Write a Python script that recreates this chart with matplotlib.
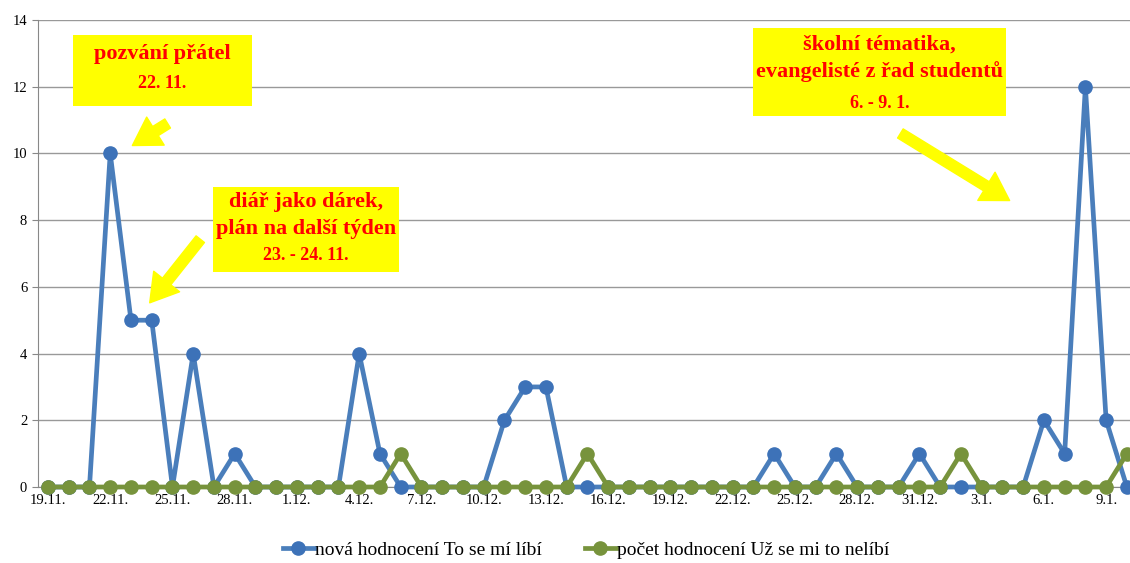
import numpy as np
import matplotlib.pyplot as plt
import matplotlib as mpl
from matplotlib.patches import Rectangle

mpl.rcParams['font.family'] = 'Liberation Serif'

# daily counts 19.11. - 10.1.
dates = ['19.11.', '20.11.', '21.11.', '22.11.', '23.11.', '24.11.', '25.11.', '26.11.',
         '27.11.', '28.11.', '29.11.', '30.11.', '1.12.', '2.12.', '3.12.', '4.12.',
         '5.12.', '6.12.', '7.12.', '8.12.', '9.12.', '10.12.', '11.12.', '12.12.',
         '13.12.', '14.12.', '15.12.', '16.12.', '17.12.', '18.12.', '19.12.', '20.12.',
         '21.12.', '22.12.', '23.12.', '24.12.', '25.12.', '26.12.', '27.12.', '28.12.',
         '29.12.', '30.12.', '31.12.', '1.1.', '2.1.', '3.1.', '4.1.', '5.1.',
         '6.1.', '7.1.', '8.1.', '9.1.', '10.1.']
likes = [0, 0, 0, 10, 5, 5, 0, 4, 0, 1, 0, 0, 0, 0, 0, 4, 1, 0, 0, 0, 0, 0, 2, 3,
         3, 0, 0, 0, 0, 0, 0, 0, 0, 0, 0, 1, 0, 0, 1, 0, 0, 0, 1, 0, 0, 0, 0, 0,
         2, 1, 12, 2, 0]
dislikes = [0, 0, 0, 0, 0, 0, 0, 0, 0, 0, 0, 0, 0, 0, 0, 0, 0, 1, 0, 0, 0, 0, 0, 0,
            0, 0, 1, 0, 0, 0, 0, 0, 0, 0, 0, 0, 0, 0, 0, 0, 0, 0, 0, 0, 1, 0, 0, 0,
            0, 0, 0, 0, 1]

blue = '#4a7ebb'
green = '#77933c'
W, H = 1130, 563

fig = plt.figure(figsize=(W/100, H/100), dpi=100)
ax = fig.add_axes([37.6/W, 1-487/H, 1-37.6/W, 467/H])

x = np.arange(len(dates))
ax.plot(x, likes, color=blue, lw=3.4, marker='o', ms=9.5, mfc='#3d72b8', mec='#3d72b8',
        label='nová hodnocení To se mí líbí', zorder=3, clip_on=False)
ax.plot(x, dislikes, color=green, lw=3.4, marker='o', ms=9.5, mfc=green, mec=green,
        label='počet hodnocení Už se mi to nelíbí', zorder=4, clip_on=False)

ax.set_ylim(0, 14)
ax.set_yticks(range(0, 15, 2))
ax.set_xlim(-0.5, 52.15)
ax.set_xticks(x[::3])
ax.set_xticklabels(dates[::3])
ax.set_xticks(x, minor=True)
ax.tick_params(axis='x', which='both', length=4, color='#888888', labelsize=10.5, pad=1)
ax.tick_params(axis='y', length=4, color='#888888', labelsize=10.5)
ax.grid(axis='y', color='#999999', lw=1)
ax.set_axisbelow(True)
for s in ['top', 'right']:
    ax.spines[s].set_visible(False)
for s in ['left', 'bottom']:
    ax.spines[s].set_color('#888888')


def fx(px):
    return px / W


def fy(py):
    return 1 - py / H


def note(x0, y0, x1, y1, lines):
    # yellow box given by its pixel corners, lines as (text, y, size)
    fig.patches.append(Rectangle((fx(x0), fy(y1)), fx(x1) - fx(x0), fy(y0) - fy(y1),
                                 transform=fig.transFigure, fc='#ffff00', ec='none', zorder=5))
    for s, py, size in lines:
        fig.text(fx((x0 + x1) / 2), fy(py), s, color='#ff0000', fontweight='bold',
                 fontsize=size, ha='center', va='center', zorder=6)


def arrow(tail, tip):
    fig.add_artist(mpl.patches.FancyArrowPatch(
        (fx(tail[0]), fy(tail[1])), (fx(tip[0]), fy(tip[1])), transform=fig.transFigure,
        arrowstyle='simple,head_width=1.7,head_length=1.4,tail_width=0.55',
        mutation_scale=14, fc='#ffff00', ec='#ffff00', zorder=6))


note(73, 35, 252, 106, [('pozvání přátel', 54, 16), ('22. 11.', 84, 13)])
arrow((170, 122), (130, 147))

note(213, 187, 399, 272, [('diář jako dárek,', 202, 16), ('plán na další týden', 229, 16),
                          ('23. - 24. 11.', 256, 13)])
arrow((202, 237), (148, 305))

note(753, 28, 1006, 116, [('školní tématika,', 45, 16), ('evangelisté z řad studentů', 72, 16),
                          ('6. - 9. 1.', 103, 13)])
arrow((898, 132), (1012, 202))

fig.legend(*ax.get_legend_handles_labels(), loc='center', bbox_to_anchor=(fx(586), fy(550)),
           ncol=2, frameon=False, fontsize=14, columnspacing=2.2, handlelength=1.6,
           handletextpad=0.05, borderaxespad=0)

fig.savefig('out.png', dpi=100)
